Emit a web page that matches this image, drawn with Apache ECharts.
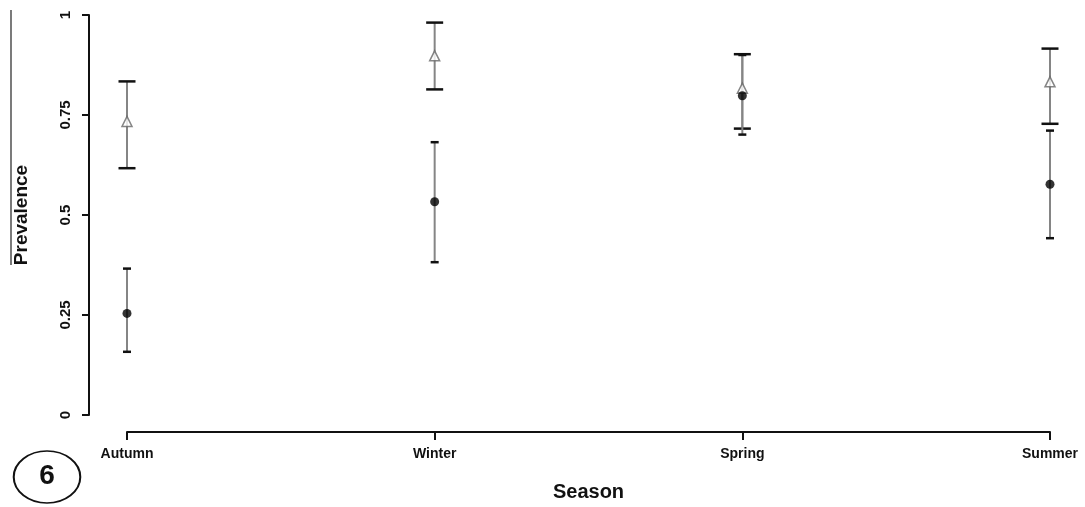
<!DOCTYPE html>
<html>
<head>
<meta charset="utf-8">
<script src="https://cdn.jsdelivr.net/npm/echarts@6/dist/echarts.min.js"></script>
<style>
html,body{margin:0;padding:0;background:#fff}
#main{width:1085px;height:507px}
</style>
</head>
<body>
<div id="main"></div>
<script>
// 季节
var seasons = ['Autumn', 'Winter', 'Spring', 'Summer'];
var yTicks = ['0', '0.25', '0.5', '0.75', '1'];

// 空心三角
var triMean = [0.734, 0.898, 0.817, 0.833];
var triLow  = [0.617, 0.814, 0.716, 0.728];
var triHigh = [0.834, 0.981, 0.902, 0.916];

// 实心圆点
var dotMean = [0.254, 0.533, 0.798, 0.577];
var dotLow  = [0.158, 0.382, 0.701, 0.442];
var dotHigh = [0.366, 0.682, 0.900, 0.711];

function barRows(low, high){
    var rows = [];
    for(var i=0;i<seasons.length;i++){
        rows.push([i, low[i], high[i]]);
    }
    return rows;
}

// 误差线
function errBar(capW){
    return function(params, api){
        var x = api.value(0);
        var lo = api.coord([x, api.value(1)]);
        var hi = api.coord([x, api.value(2)]);
        var h = capW/2;
        return {
            type: 'group',
            children: [
                {type:'line', shape:{x1:lo[0], y1:lo[1], x2:hi[0], y2:hi[1]}, style:{stroke:'#858585', lineWidth:2}},
                {type:'line', shape:{x1:lo[0]-h, y1:lo[1], x2:lo[0]+h, y2:lo[1]}, style:{stroke:'#111', lineWidth:2.5}},
                {type:'line', shape:{x1:hi[0]-h, y1:hi[1], x2:hi[0]+h, y2:hi[1]}, style:{stroke:'#111', lineWidth:2.5}}
            ]
        };
    };
}

var myChart = echarts.init(document.getElementById('main'));
var option = {
    animation: false,
    backgroundColor: '#fff',
    grid: {left: 127, right: 35, top: 15, bottom: 91},
    xAxis: {
        type: 'category',
        data: seasons,
        boundaryGap: false,
        offset: 17,
        name: 'Season',
        nameLocation: 'middle',
        nameGap: 50,
        nameTextStyle: {fontFamily: 'Liberation Sans', fontWeight: 'bold', fontSize: 20, color: '#111'},
        axisLine: {onZero: false, lineStyle: {color: '#111', width: 2}},
        axisTick: {length: 8, lineStyle: {color: '#111', width: 2}},
        axisLabel: {margin: 15, fontFamily: 'Liberation Sans', fontWeight: 'bold', fontSize: 14, color: '#111'},
        splitLine: {show: false}
    },
    yAxis: {
        type: 'value',
        min: 0,
        max: 1,
        interval: 0.25,
        offset: 38,
        name: 'Prevalence',
        nameLocation: 'middle',
        nameGap: 58,
        nameTextStyle: {fontFamily: 'Liberation Sans', fontWeight: 'bold', fontSize: 19, color: '#111'},
        axisLine: {show: true, onZero: false, lineStyle: {color: '#111', width: 2}},
        axisTick: {show: true, length: 7, lineStyle: {color: '#111', width: 2}},
        axisLabel: {
            rotate: 90,
            margin: 16,
            fontFamily: 'Liberation Sans',
            fontWeight: 'bold',
            fontSize: 15,
            color: '#111',
            formatter: function(v){ return yTicks[Math.round(v*4)]; }
        },
        splitLine: {show: false}
    },
    graphic: [
        {type:'line', shape:{x1:11, y1:10, x2:11, y2:265}, style:{stroke:'#222', lineWidth:1.2}},
        {type:'circle', x:47, y:477, scaleX:1.28, shape:{cx:0, cy:0, r:26}, style:{fill:'none', stroke:'#111', lineWidth:1.6}},
        {type:'text', x:47, y:476, style:{text:'6', fontFamily:'Liberation Sans', fontWeight:'bold', fontSize:28, fill:'#111', align:'center', verticalAlign:'middle'}}
    ],
    series: [
        {
            type: 'custom',
            renderItem: errBar(17),
            encode: {x: 0, y: [1, 2]},
            data: barRows(triLow, triHigh),
            z: 2
        },
        {
            type: 'custom',
            renderItem: errBar(8),
            encode: {x: 0, y: [1, 2]},
            data: barRows(dotLow, dotHigh),
            z: 2
        },
        {
            type: 'scatter',
            symbol: 'triangle',
            symbolSize: 10,
            itemStyle: {color: '#fff', borderColor: '#666', borderWidth: 1.5},
            data: triMean,
            z: 3
        },
        {
            type: 'scatter',
            symbol: 'circle',
            symbolSize: 9,
            itemStyle: {color: '#000'},
            data: dotMean,
            z: 4
        }
    ]
};
myChart.setOption(option);
</script>
</body>
</html>
